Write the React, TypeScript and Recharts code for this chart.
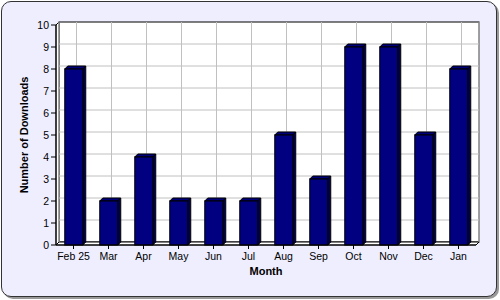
import React from 'react';
import { BarChart, Bar, XAxis, YAxis, CartesianGrid } from 'recharts';

// Monthly downloads
const months = ['Feb 25', 'Mar', 'Apr', 'May', 'Jun', 'Jul', 'Aug', 'Sep', 'Oct', 'Nov', 'Dec', 'Jan'];
const downloads = [8, 2, 4, 2, 2, 2, 5, 3, 9, 9, 5, 8];
const yTicks = [0, 1, 2, 3, 4, 5, 6, 7, 8, 9, 10];

const data = months.map((month, i) => ({ month, downloads: downloads[i] }));

const DEPTH = 3;
const BAR_FRONT = '#000080';
const BAR_TOP = '#00007a';
const BAR_SIDE = '#000050';
const GRID = '#c0c0c0';
const FONT = '"Liberation Sans", Arial, sans-serif';

// 3D bar: front face, top and right side
const Bar3D = (props: any) => {
  const { x, y, width, height } = props;
  if (!height || height <= 0) return null;
  const d = DEPTH;
  return (
    <g>
      <polygon
        points={`${x},${y} ${x + d},${y - d} ${x + width + d},${y - d} ${x + width},${y}`}
        fill={BAR_TOP}
        stroke="#000"
        strokeWidth={1}
      />
      <polygon
        points={`${x + width},${y} ${x + width + d},${y - d} ${x + width + d},${y + height - d} ${x + width},${y + height}`}
        fill={BAR_SIDE}
        stroke="#000"
        strokeWidth={1}
      />
      <rect x={x} y={y} width={width} height={height} fill={BAR_FRONT} stroke="#000" strokeWidth={1} />
    </g>
  );
};

// horizontal grid lines on the back wall; the first one also draws the walls
const hLine = (p: any) => {
  const { x, y, width, height, x1, y1, x2, index } = p;
  const d = DEPTH;
  const isEdge = Math.abs(y1 - y) < 0.5 || Math.abs(y1 - (y + height)) < 0.5;
  const line = isEdge ? null : (
    <line x1={x1 + d} y1={y1 - d} x2={x2 + d} y2={y1 - d} stroke={GRID} strokeWidth={1} />
  );
  if (index !== 0) return <g key={`h-${index}`}>{line}</g>;
  return (
    <g key={`h-${index}`}>
      <rect x={x + d} y={y - d} width={width} height={height} fill="#fff" stroke="#000" strokeWidth={1} />
      {/* left wall */}
      <polygon
        points={`${x},${y} ${x + d},${y - d} ${x + d},${y + height - d} ${x},${y + height}`}
        fill="#fff"
        stroke="#000"
        strokeWidth={1}
      />
      {/* floor */}
      <polygon
        points={`${x},${y + height} ${x + d},${y + height - d} ${x + width + d},${y + height - d} ${x + width},${y + height}`}
        fill="#fff"
        stroke="#000"
        strokeWidth={1}
      />
      {line}
    </g>
  );
};

const vLine = (p: any) => {
  const { x1, y1, y2, index } = p;
  const d = DEPTH;
  return <line key={`v-${index}`} x1={x1 + d} y1={y1 - d} x2={x1 + d} y2={y2 - d} stroke={GRID} strokeWidth={1} />;
};

export default function App() {
  return (
    <div style={{ position: 'absolute', left: 0, top: 0, width: 500, height: 300 }}>
      <div
        style={{
          position: 'absolute',
          left: 1,
          top: 1,
          width: 494,
          height: 294,
          background: '#eeeeff',
          border: '1px solid #333',
          borderRadius: 10,
          boxShadow: '2px 2px 0 #999',
        }}
      />
      <div style={{ position: 'absolute', left: 0, top: 0 }}>
        <BarChart
          width={500}
          height={300}
          data={data}
          margin={{ top: 25, right: 24, bottom: 15, left: 0 }}
          barCategoryGap="25%"
        >
          <CartesianGrid horizontal={hLine} vertical={vLine} />
          <XAxis
            dataKey="month"
            height={40}
            interval={0}
            tickSize={4}
            tickMargin={4}
            axisLine={{ stroke: '#000' }}
            tickLine={{ stroke: '#000' }}
            tick={{ fill: '#000', fontSize: 10.5, fontFamily: FONT }}
            label={{
              value: 'Month',
              position: 'insideBottom',
              offset: 10,
              style: { fill: '#000', fontSize: 11, fontWeight: 700, fontFamily: FONT },
            }}
          />
          <YAxis
            width={56}
            domain={[0, 10]}
            ticks={yTicks}
            interval={0}
            tickSize={5}
            tickMargin={2}
            axisLine={{ stroke: '#000' }}
            tickLine={{ stroke: '#000' }}
            tick={{ fill: '#000', fontSize: 10.5, fontFamily: FONT }}
            label={{
              value: 'Number of Downloads',
              angle: -90,
              position: 'insideLeft',
              offset: 24,
              style: { fill: '#000', fontSize: 11, fontWeight: 700, fontFamily: FONT, textAnchor: 'middle' },
            }}
          />
          <Bar dataKey="downloads" shape={Bar3D} isAnimationActive={false} />
        </BarChart>
      </div>
    </div>
  );
}
